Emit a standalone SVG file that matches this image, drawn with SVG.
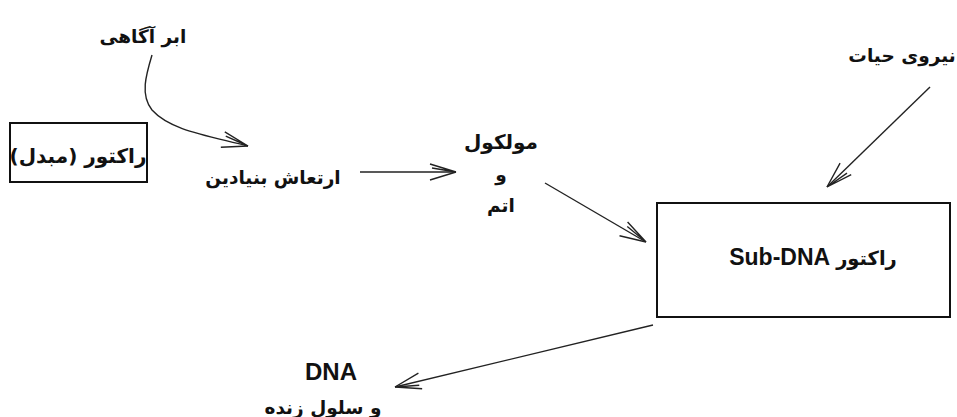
<svg xmlns="http://www.w3.org/2000/svg" width="957" height="417" viewBox="0 0 957 417">
<defs>
<marker id="arr" markerWidth="30" markerHeight="20" refX="28" refY="10" orient="auto" markerUnits="userSpaceOnUse" viewBox="0 0 30 20">
<path d="M2,2 L28,10 M2,18 L28,10 M4,6 L28,10" fill="none" stroke="#222" stroke-width="1.4"/>
</marker>
<style>
.fa{font-family:"DejaVu Sans","Noto Sans",sans-serif;font-weight:bold;font-size:18.5px;fill:#111;text-anchor:middle}
.en{font-family:"Liberation Sans",Arial,sans-serif;font-weight:bold;font-size:23px;fill:#111}
.box{fill:#fff;stroke:#111;stroke-width:2}
.con{fill:none;stroke:#222;stroke-width:1.4;marker-end:url(#arr)}
</style>
</defs>
<rect width="957" height="417" fill="#fff"/>
<g id="connectors">
<path class="con" d="M152,55 C146,75 140,95 152,110 C170,130 205,135 248,146"/>
<path class="con" d="M360,172 L456,172"/>
<path class="con" d="M545,183 L646,242"/>
<path class="con" d="M930,87 L827,187"/>
<path class="con" d="M653,325 L395,387"/>
</g>
<g id="n-abar">
<text class="fa" x="143" y="43" direction="rtl">ابر آگاهی</text>
</g>
<g id="n-reactor-mobadel">
<rect class="box" x="10" y="123" width="137" height="59"/>
<text class="fa" x="78" y="163" direction="rtl" style="font-size:20px">راکتور (مبدل)</text>
</g>
<g id="n-ertesha">
<text class="fa" x="273" y="184" direction="rtl">ارتعاش بنیادین</text>
</g>
<g id="n-molecule">
<text class="fa" x="501" y="149" direction="rtl" style="font-size:20px">مولکول</text>
<text class="fa" x="501" y="181" direction="rtl">و</text>
<text class="fa" x="501" y="212" direction="rtl">اتم</text>
</g>
<g id="n-niroo">
<text class="fa" x="902" y="62" direction="rtl">نیروی حیات</text>
</g>
<g id="n-subdna">
<rect class="box" x="657" y="203" width="293" height="114"/>
<text x="813" y="265" text-anchor="middle"><tspan class="en">Sub-DNA</tspan><tspan class="fa" dx="6" style="font-size:19.5px">راکتور</tspan></text>
</g>
<g id="n-dna">
<text class="en" x="331" y="380" text-anchor="middle" style="font-size:24px">DNA</text>
<text class="fa" x="323" y="414" direction="rtl">و سلول زنده</text>
</g>
</svg>
